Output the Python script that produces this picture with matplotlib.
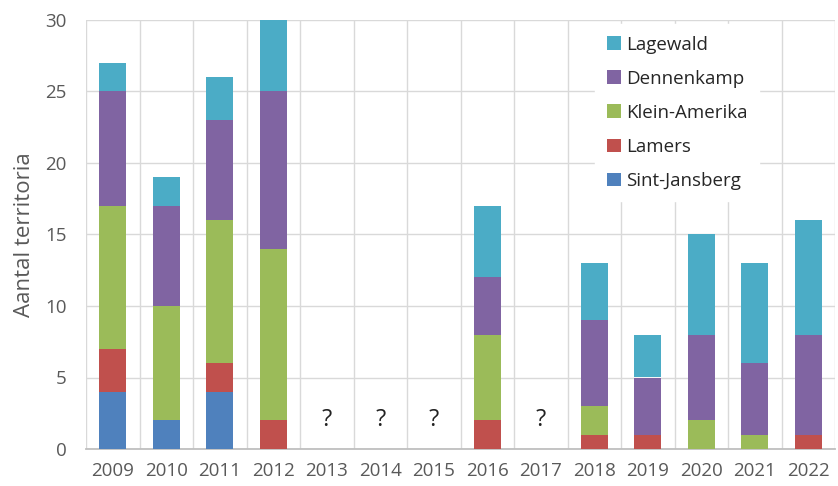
import numpy as np
import matplotlib
matplotlib.use("Agg")
import matplotlib.pyplot as plt

years = ["2009", "2010", "2011", "2012", "2013", "2014", "2015", "2016",
         "2017", "2018", "2019", "2020", "2021", "2022"]
nan = np.nan
sint_jansberg = [4, 2, 4, 0, nan, nan, nan, 0, nan, 0, 0, 0, 0, 0]
lamers        = [3, 0, 2, 2, nan, nan, nan, 2, nan, 1, 1, 0, 0, 1]
klein_amerika = [10, 8, 10, 12, nan, nan, nan, 6, nan, 2, 0, 2, 1, 0]
dennenkamp    = [8, 7, 7, 11, nan, nan, nan, 4, nan, 6, 4, 6, 5, 7]
lagewald      = [2, 2, 3, 5, nan, nan, nan, 5, nan, 4, 3, 7, 7, 8]
unknown_years = ["2013", "2014", "2015", "2017"]

series = [
    ("Sint-Jansberg", sint_jansberg, "#4F81BD"),
    ("Lamers", lamers, "#C0504D"),
    ("Klein-Amerika", klein_amerika, "#9BBB59"),
    ("Dennenkamp", dennenkamp, "#8064A2"),
    ("Lagewald", lagewald, "#4BACC6"),
]

plt.rcParams['font.family'] = ['Open Sans', 'DejaVu Sans']

fig = plt.figure(figsize=(8.38, 4.86), dpi=100)
ax = fig.add_axes([86/838, 1-449/486, 749/838, 429/486])

x = np.arange(len(years))
bottom = np.zeros(len(years))
handles = []
for name, vals, col in series:
    v = np.nan_to_num(np.array(vals, dtype=float))
    b = ax.bar(x, v, 0.5, bottom=bottom, color=col, label=name, zorder=3)
    handles.append(b)
    bottom += v

for yr in unknown_years:
    i = years.index(yr)
    ax.text(i, 2.0, "?", ha="center", va="center", fontsize=17, color="#222222", zorder=4)

ax.set_xlim(-0.5, len(years) - 0.5)
ax.set_ylim(0, 30)
ax.set_yticks(np.arange(0, 31, 5))
ax.set_xticks(x)
ax.set_xticklabels(years)
ax.set_xticks(np.arange(-0.5, len(years), 1), minor=True)
ax.tick_params(axis='both', which='both', length=0, labelsize=13.5, colors="#595959")
ax.tick_params(axis='x', pad=9)
ax.tick_params(axis='y', pad=14)
ax.grid(axis='y', which='major', color="#d9d9d9", lw=1, zorder=0)
ax.grid(axis='x', which='minor', color="#d9d9d9", lw=1, zorder=0)
ax.grid(axis='x', which='major', visible=False)
for s in ["top", "right", "left"]:
    ax.spines[s].set_visible(False)
ax.spines["bottom"].set_color("#bfbfbf")
ax.spines["bottom"].set_linewidth(1.3)
ax.set_ylabel("Aantal territoria", fontsize=16, color="#595959", labelpad=7)

leg = ax.legend(handles[::-1], [s[0] for s in series][::-1],
                loc="upper left", bbox_to_anchor=(0.68, 0.99), borderaxespad=0,
                frameon=True, facecolor="white", edgecolor="white", framealpha=1,
                fontsize=13.5, handlelength=0.75, handleheight=0.75, handletextpad=0.3,
                labelspacing=0.86, borderpad=0.6)
leg.set_zorder(5)
for t in leg.get_texts():
    t.set_color("#262626")

fig.savefig("out.png", dpi=100)
